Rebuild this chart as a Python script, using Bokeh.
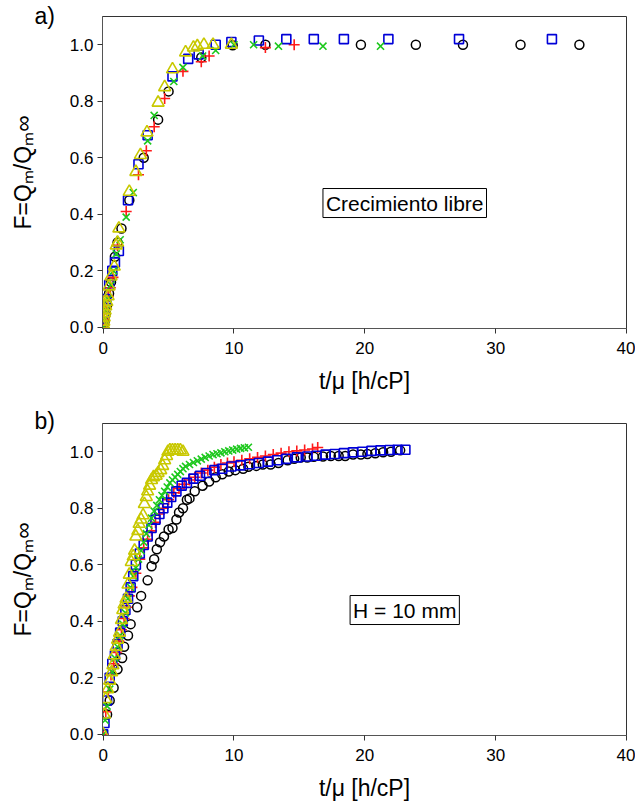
from bokeh.plotting import figure
from bokeh.layouts import column
from bokeh.models import Label, Range1d, PrintfTickFormatter, Title
from bokeh.embed import file_html
from bokeh.resources import INLINE

# ---------------- data: panel a) (Crecimiento libre) ----------------
black_a_x = [0, 0.1, 0.2, 0.3, 0.45, 0.6, 0.9, 1.1, 1.4, 2.0, 3.1, 4.2, 5.0, 7.5, 9.9, 12.4, 19.7, 23.9, 27.5, 31.9, 36.4]
black_a_y = [0, 0.02, 0.05, 0.08, 0.12, 0.16, 0.25, 0.30, 0.35, 0.45, 0.60, 0.735, 0.835, 0.955, 0.998, 1.0, 1.0, 1.0, 1.0, 1.0, 1.0]

red_a_x = [0, 0.1, 0.2, 0.38, 0.55, 0.75, 1.1, 1.76, 2.7, 3.3, 3.9, 4.7, 6.1, 7.5, 8.1, 12.4, 14.6]
red_a_y = [0, 0.03, 0.07, 0.11, 0.14, 0.177, 0.29, 0.41, 0.54, 0.625, 0.71, 0.81, 0.906, 0.94, 0.96, 0.99, 1.0]

blue_a_x = [0, 0.1, 0.23, 0.46, 0.7, 0.9, 1.2, 1.9, 2.7, 3.4, 5.3, 6.5, 7.3, 8.6, 9.8, 11.9, 14.0, 16.1, 18.4, 21.8, 27.2, 34.3]
blue_a_y = [0, 0.05, 0.1, 0.15, 0.2, 0.23, 0.27, 0.45, 0.577, 0.68, 0.888, 0.95, 0.966, 1.0, 1.01, 1.015, 1.02, 1.02, 1.02, 1.02, 1.02, 1.02]

green_a_x = [0, 0.1, 0.2, 0.37, 0.6, 0.8, 1.0, 1.3, 1.76, 2.3, 3.4, 3.9, 5.4, 6.1, 7.6, 8.6, 10.0, 11.5, 13.4, 16.8, 21.2]
green_a_y = [0, 0.03, 0.06, 0.1, 0.15, 0.2, 0.26, 0.31, 0.39, 0.477, 0.66, 0.75, 0.87, 0.92, 0.96, 0.98, 1.0, 1.0, 0.995, 0.995, 0.995]

yellow_a_x = [0, 0.02, 0.05, 0.08, 0.1, 0.15, 0.2, 0.28, 0.38, 0.45, 0.6, 0.85, 1.0, 1.1, 1.2, 2.0, 2.5, 2.85, 3.35, 4.2, 4.7, 5.3, 6.3, 6.9, 7.2, 7.7, 8.4, 9.8]
yellow_a_y = [0, 0.01, 0.02, 0.035, 0.05, 0.06, 0.075, 0.09, 0.11, 0.145, 0.18, 0.215, 0.29, 0.3, 0.35, 0.48, 0.55, 0.61, 0.69, 0.795, 0.85, 0.913, 0.973, 0.99, 0.995, 1.0, 1.0, 1.0]

# ---------------- data: panel b) (H = 10 mm) ----------------
black_b_x = [0, 0.3, 0.5, 0.8, 1.1, 1.45, 1.6, 1.9, 2.1, 2.6, 2.9, 3.4, 3.7, 3.9, 4.1, 4.35, 4.65, 5.0, 5.3, 5.6,
             5.8, 6.1, 6.4, 6.6, 7.0, 7.6, 8.1, 8.6, 9.1, 9.6, 10.1, 10.7, 11.1, 11.7, 12.2, 12.8, 13.4, 14.1, 14.6, 15.1,
             15.6, 16.1, 16.8, 17.4, 18.0, 18.5, 19.1, 19.7, 20.2, 20.8, 21.4, 22.0, 22.7]
black_b_y = [0, 0.07, 0.12, 0.165, 0.23, 0.27, 0.31, 0.35, 0.39, 0.45, 0.49, 0.545, 0.595, 0.62, 0.655, 0.68, 0.70, 0.725, 0.73, 0.76,
             0.785, 0.80, 0.83, 0.835, 0.86, 0.88, 0.895, 0.91, 0.92, 0.93, 0.935, 0.94, 0.947, 0.95, 0.955, 0.955, 0.96, 0.97, 0.975, 0.98,
             0.98, 0.982, 0.983, 0.985, 0.985, 0.985, 0.99, 0.99, 0.992, 0.995, 0.998, 1.0, 1.005]

red_b_x = [0.0, 0.2, 0.4, 0.6, 0.8, 1.0, 1.2, 1.4, 1.6, 1.8, 2.0, 2.2, 2.5, 2.8, 3.1, 3.4, 3.7, 4.0, 4.3, 4.6,
           5.0, 5.4, 5.8, 6.2, 6.6, 7.0, 7.5, 8.0, 8.5, 9.0, 9.5, 10.0, 10.6, 11.2, 11.8, 12.4, 13.0, 13.6, 14.2, 14.8,
           15.4, 16.0, 16.4]
red_b_y = [0.0, 0.08, 0.15, 0.21, 0.25, 0.29, 0.33, 0.37, 0.41, 0.45, 0.49, 0.52, 0.57, 0.62, 0.66, 0.69, 0.72, 0.75, 0.78, 0.80,
           0.83, 0.855, 0.87, 0.885, 0.90, 0.91, 0.925, 0.935, 0.945, 0.955, 0.96, 0.965, 0.97, 0.975, 0.98, 0.985, 0.99, 0.995, 1.0, 1.003,
           1.006, 1.01, 1.015]

blue_b_x = [0.0, 0.1, 0.3, 0.5, 0.7, 0.9, 1.1, 1.3, 1.5, 1.7, 1.9, 2.1, 2.3, 2.5, 2.8, 3.1, 3.4, 3.7, 4.0, 4.3,
            4.6, 4.9, 5.2, 5.6, 6.0, 6.4, 6.9, 7.4, 7.9, 8.5, 9.1, 9.8, 10.5, 11.2, 11.9, 12.6, 13.3, 14.0, 14.8, 15.6,
            16.3, 17.0, 17.7, 18.4, 19.1, 19.8, 20.5, 21.2, 21.9, 22.5, 23.1]
blue_b_y = [0.0, 0.04, 0.12, 0.2, 0.25, 0.28, 0.32, 0.36, 0.40, 0.44, 0.48, 0.52, 0.56, 0.6, 0.64, 0.67, 0.70, 0.73, 0.76, 0.78,
            0.80, 0.82, 0.84, 0.86, 0.88, 0.89, 0.905, 0.915, 0.925, 0.935, 0.94, 0.948, 0.952, 0.956, 0.96, 0.965, 0.97, 0.975, 0.98, 0.983,
            0.986, 0.99, 0.992, 0.995, 0.998, 1.0, 1.003, 1.005, 1.006, 1.007, 1.007]

green_b_x = [0.0, 0.15, 0.3, 0.5, 0.7, 0.9, 1.1, 1.3, 1.5, 1.7, 1.9, 2.1, 2.3, 2.5, 2.7, 2.9, 3.1, 3.3, 3.5, 3.7,
             3.9, 4.1, 4.3, 4.5, 4.7, 4.9, 5.1, 5.3, 5.5, 5.7, 5.9, 6.1, 6.3, 6.6, 6.9, 7.2, 7.5, 7.8, 8.1, 8.4,
             8.7, 9.0, 9.3, 9.6, 9.9, 10.2, 10.5, 10.8, 11.1]
green_b_y = [0.0, 0.05, 0.1, 0.16, 0.22, 0.27, 0.31, 0.35, 0.39, 0.43, 0.48, 0.52, 0.56, 0.59, 0.62, 0.65, 0.68, 0.71, 0.74, 0.765,
             0.79, 0.81, 0.83, 0.845, 0.86, 0.875, 0.89, 0.90, 0.91, 0.92, 0.93, 0.94, 0.948, 0.955, 0.962, 0.968, 0.974, 0.98, 0.985, 0.99,
             0.993, 0.996, 1.0, 1.003, 1.006, 1.009, 1.012, 1.014, 1.016]

yellow_b_x = [0.0, 0.1, 0.2, 0.35, 0.5, 0.65, 0.75, 0.85, 1.0, 1.1, 1.25, 1.4, 1.5, 1.6, 1.75, 1.9, 2.0, 2.15, 2.3, 2.4,
              2.5, 2.65, 2.75, 2.9, 3.05, 3.15, 3.3, 3.4, 3.55, 3.7, 3.85, 4.05, 4.2, 4.4, 4.55, 4.7, 4.85, 4.95, 5.1, 5.3,
              5.5, 5.7, 5.9, 6.1]
yellow_b_y = [0.0, 0.07, 0.125, 0.16, 0.19, 0.22, 0.245, 0.28, 0.31, 0.335, 0.36, 0.405, 0.44, 0.46, 0.48, 0.53, 0.565, 0.61, 0.63, 0.65,
              0.70, 0.72, 0.745, 0.76, 0.775, 0.815, 0.84, 0.86, 0.88, 0.90, 0.91, 0.915, 0.925, 0.935, 0.95, 0.97, 0.985, 1.0, 1.005, 1.005,
              1.005, 1.005, 1.005, 1.0]

x_ticks = [0, 10, 20, 30, 40]
y_ticks = [0.0, 0.2, 0.4, 0.6, 0.8, 1.0]
x_label = "t/μ [h/cP]"
y_label = "F=Qₘ/Qₘ∞"

FONT = "Liberation Sans"
C_BLACK = "#000000"
C_RED = "#ff1a1a"
C_BLUE = "#0000d8"
C_GREEN = "#1ec81e"
C_YELLOW = "#c8c800"


def make_panel(series, tag_text, box_text, top_border, bottom_border, tag_standoff):
    p = figure(frame_width=524, frame_height=312,
               x_range=Range1d(-0.05, 40), y_range=Range1d(-0.004, 1.1),
               output_backend="svg", toolbar_location=None,
               min_border_left=102, min_border_right=9,
               min_border_top=top_border, min_border_bottom=bottom_border)
    p.xgrid.visible = False
    p.ygrid.visible = False
    p.outline_line_color = "#333333"
    p.outline_line_width = 1
    p.background_fill_color = "white"
    p.border_fill_color = "white"

    p.xaxis.ticker = x_ticks
    p.yaxis.ticker = y_ticks
    p.yaxis.formatter = PrintfTickFormatter(format="%.1f")
    p.xaxis.axis_label = x_label
    p.yaxis.axis_label = y_label
    for ax in (p.xaxis[0], p.yaxis[0]):
        ax.axis_line_color = "#555555"
        ax.major_tick_line_color = "#333333"
        ax.minor_tick_line_color = None
        ax.major_tick_in = 0
        ax.major_tick_out = 5
        ax.major_label_text_font = FONT
        ax.major_label_text_font_size = "17px"
        ax.major_label_text_color = "black"
        ax.axis_label_text_font = FONT
        ax.axis_label_text_font_size = "23px"
        ax.axis_label_text_font_style = "normal"
        ax.axis_label_text_color = "black"
    p.xaxis.major_label_standoff = 8
    p.xaxis.axis_label_standoff = 11
    p.yaxis.major_label_standoff = 4
    p.yaxis.axis_label_standoff = 31

    (bx, by), (rx, ry), (ux, uy), (gx, gy), (yx, yy) = series
    p.scatter(bx, by, marker="circle", size=9, fill_color=None, line_color=C_BLACK, line_width=1.5)
    p.scatter(rx, ry, marker="cross", size=11, line_color=C_RED, line_width=1.6)
    p.scatter(ux, uy, marker="square", size=9, fill_color=None, line_color=C_BLUE, line_width=1.6)
    p.scatter(gx, gy, marker="x", size=10, line_color=C_GREEN, line_width=1.6)
    p.scatter(yx, yy, marker="triangle", size=12, fill_color=None, line_color=C_YELLOW, line_width=1.6)

    # double-framed text box
    outer = Label(x=23.05, y=0.44, text=box_text, text_align="center", text_baseline="middle",
                  text_font=FONT, text_font_size="21px", text_color="black", text_alpha=0.0,
                  padding=6, border_line_color="#666666", border_line_width=1.5,
                  background_fill_color="white")
    inner = Label(x=23.05, y=0.44, text=box_text, text_align="center", text_baseline="middle",
                  text_font=FONT, text_font_size="21px", text_color="black",
                  padding=3, border_line_color="black", border_line_width=1,
                  background_fill_color="white")
    p.add_layout(outer)
    p.add_layout(inner)

    # panel tag ("a)", "b)") as a title pulled down beside the frame
    tag = Title(text=tag_text, align="left", offset=-68, standoff=tag_standoff,
                text_font=FONT, text_font_size="23px", text_font_style="normal",
                text_color="black")
    p.add_layout(tag, "above")
    return p


p1 = make_panel([(black_a_x, black_a_y), (red_a_x, red_a_y), (blue_a_x, blue_a_y),
                 (green_a_x, green_a_y), (yellow_a_x, yellow_a_y)],
                "a)", "Crecimiento libre", 16, 66, -25)
p2 = make_panel([(black_b_x, black_b_y), (red_b_x, red_b_y), (blue_b_x, blue_b_y),
                 (green_b_x, green_b_y), (yellow_b_x, yellow_b_y)],
                "b)", "H = 10 mm", 27, 62, -21)

layout = column(p1, p2, spacing=0)
open("out.html", "w").write(file_html(layout, INLINE))
